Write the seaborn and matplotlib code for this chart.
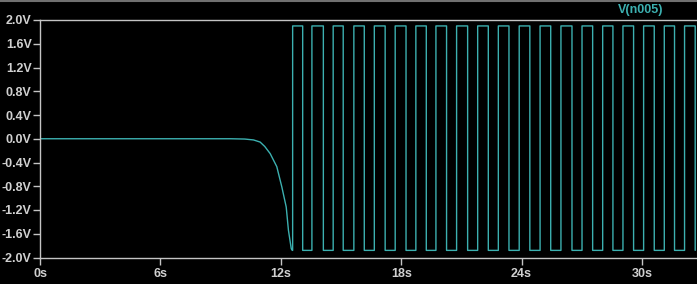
import matplotlib
matplotlib.use("Agg")
import matplotlib.pyplot as plt
from matplotlib.lines import Line2D
import seaborn as sns
import pandas as pd

# ---- data ----
decay_t = [0.0, 9.5, 10.2, 10.64, 10.97, 11.2, 11.47, 11.8, 12.05, 12.27, 12.38, 12.52, 12.57]
decay_v = [0.0, 0.0, -0.005, -0.02, -0.056, -0.13, -0.25, -0.47, -0.81, -1.15, -1.54, -1.85, -1.88]
rise_t = [12.59, 13.55, 14.61, 15.64, 16.66, 17.70, 18.73, 19.73, 20.76, 21.81,
          22.84, 23.88, 24.92, 25.96, 27.01, 28.04, 29.05, 30.08, 31.11, 32.12]
fall_t = [13.09, 14.12, 15.11, 16.16, 17.20, 18.24, 19.25, 20.26, 21.31, 22.34,
          23.37, 24.41, 25.45, 26.51, 27.54, 28.55, 29.58, 30.61, 31.62, 32.65]
v_high = 1.90
v_low = -1.88
y_ticks = [2.0, 1.6, 1.2, 0.8, 0.4, 0.0, -0.4, -0.8, -1.2, -1.6, -2.0]
y_labels = ["2.0V", "1.6V", "1.2V", "0.8V", "0.4V", "0.0V", "-0.4V", "-0.8V", "-1.2V", "-1.6V", "-2.0V"]
x_ticks = [0, 6, 12, 18, 24, 30]
x_labels = ["0s", "6s", "12s", "18s", "24s", "30s"]
trace_name = "V(n005)"

# build path
ts = list(decay_t)
vs = list(decay_v)
for r, f in zip(rise_t, fall_t):
    ts += [r, r, f, f]
    vs += [v_low, v_high, v_high, v_low]
df = pd.DataFrame({"t": ts, "v": vs, "order": range(len(ts))})

sns.set_style("dark")
plt.rcParams["font.family"] = ["Liberation Sans", "DejaVu Sans"]

fig = plt.figure(figsize=(6.97, 2.84), dpi=100, facecolor="black")
ax = fig.add_axes([40 / 697, 1 - 257.5 / 284, 1 - 40 / 697, (257.5 - 20) / 284])
ax.set_facecolor("black")

teal = "#3cb0b0"
sns.lineplot(data=df, x="t", y="v", sort=False, estimator=None, ax=ax,
             color=teal, linewidth=1.0)

ax.set_xlim(0, 32.74)
ax.set_ylim(-2.0, 2.0)
ax.set_xticks(x_ticks)
ax.set_xticklabels(x_labels)
ax.set_yticks(y_ticks)
ax.set_yticklabels(y_labels)
ax.set_xlabel("")
ax.set_ylabel("")
ax.grid(False)

frame = "#c4c4c4"
for s in ["left", "bottom", "top"]:
    ax.spines[s].set_visible(True)
    ax.spines[s].set_color(frame)
    ax.spines[s].set_linewidth(1.0)
ax.spines["right"].set_visible(False)

ax.tick_params(axis="both", which="major", direction="out", length=5, width=1,
               color=frame, labelcolor="#d0d0d0", labelsize=9, pad=1,
               left=True, bottom=True)
ax.tick_params(axis="x", pad=2.5)
for lab in ax.get_xticklabels() + ax.get_yticklabels():
    lab.set_fontweight("bold")

fig.text(641 / 697, 1 - 9.5 / 284, trace_name, color=teal, fontsize=9,
         fontweight="bold", ha="center", va="center")

fig.add_artist(Line2D([0, 1], [1 - 0.5 / 284, 1 - 0.5 / 284], color="#707070",
                      linewidth=1.5, transform=fig.transFigure))

fig.savefig("out.png", dpi=100, facecolor="black")
